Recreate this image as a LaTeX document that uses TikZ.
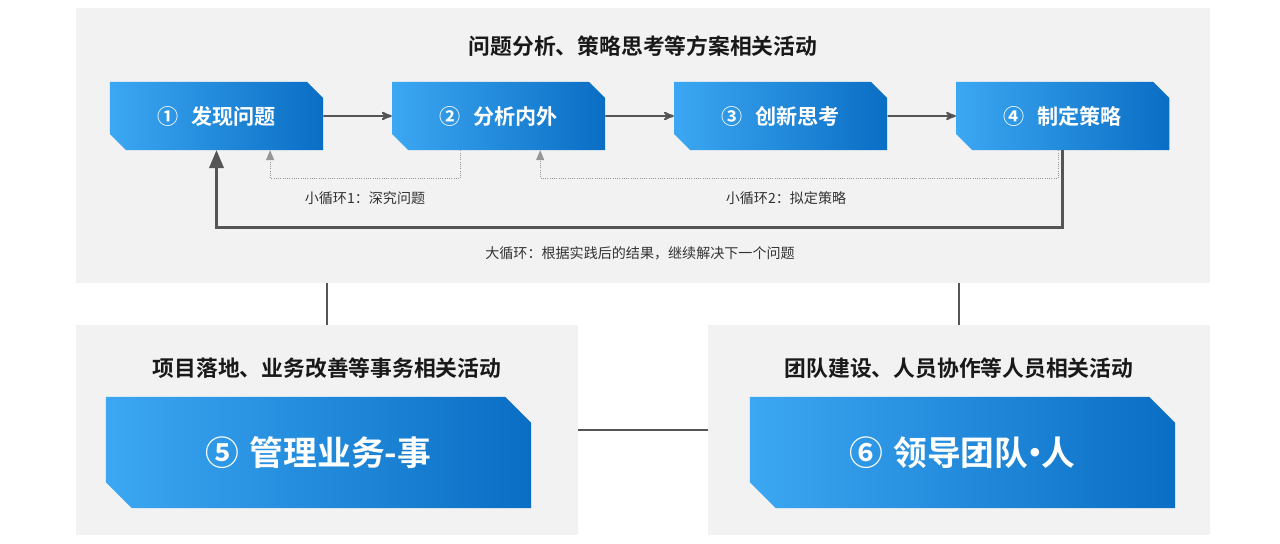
\documentclass[tikz,border=0pt]{standalone}
\usepackage{fontspec}
\setmainfont{Noto Sans CJK SC}[BoldFont={Noto Sans CJK SC Bold}]
\usetikzlibrary{arrows,positioning,shapes.misc}
\definecolor{panelgray}{RGB}{242,242,242}
\definecolor{boxlight}{RGB}{60,167,242}
\definecolor{boxdark}{RGB}{10,110,196}
\definecolor{flowgray}{RGB}{85,85,85}
\definecolor{dotgray}{RGB}{150,150,150}

\begin{document}
\begin{tikzpicture}[x=0.025cm,y=-0.025cm,>=stealth',node distance=7.05cm]
\tikzstyle{panel}=[fill=panelgray,inner sep=0pt,minimum width=12.55cm,minimum height=5.25cm]
\tikzstyle{stagebox}=[chamfered rectangle,chamfered rectangle corners={north east,south west},chamfered rectangle sep=0.2cm,
  left color=boxlight,right color=boxdark,text=white,inner sep=0pt,minimum width=5.325cm,minimum height=1.7cm,
  font=\fontsize{15}{18}\selectfont\bfseries]
\tikzstyle{bigbox}=[stagebox,chamfered rectangle sep=0.32cm,minimum width=10.625cm,minimum height=2.775cm,
  font=\fontsize{24}{28}\selectfont\bfseries]
\tikzstyle{titletext}=[text=black!90,font=\fontsize{15.5}{18}\selectfont\bfseries]
\tikzstyle{looptext}=[text=black!80,font=\fontsize{10}{12}\selectfont]
\tikzstyle{flowline}=[draw=flowgray,line width=1.4pt]
\tikzstyle{smallloop}=[draw=dotgray,densely dotted,line width=0.6pt,-triangle 45]
\tikzstyle{bigloop}=[draw=flowgray,line width=2pt,-triangle 45]
\useasboundingbox (0,0) rectangle (1280,544);
\fill[white] (0,0) rectangle (1280,544);

% panels
\node[panel,minimum width=28.35cm,minimum height=6.875cm] (plan) at (643,145.5) {};
\node[panel] (shi) at (327,430) {};
\node[panel] (ren) at (959,430) {};

% top: four stages
\node[titletext] (plantitle) at (643,46) {问题分析、策略思考等方案相关活动};
\node[stagebox] (find) at (216.5,116) {①\hspace{0.6em}发现问题};
\node[stagebox,right of=find] (analyse) {②\hspace{0.6em}分析内外};
\node[stagebox,right of=analyse] (innovate) {③\hspace{0.6em}创新思考};
\node[stagebox,right of=innovate] (strategy) {④\hspace{0.6em}制定策略};
\path[->,flowline] (find) edge (analyse)
      (analyse) edge (innovate)
      (innovate) edge (strategy);

% loops
\draw[smallloop] ([xshift=-0.96cm]analyse.south) -- ++(0,-0.7cm) -| ([xshift=1.34cm]find.south);
\draw[smallloop] ([xshift=-0.12cm]strategy.south) -- ++(0,-0.7cm) -| ([xshift=1.04cm]analyse.south);
\draw[bigloop] (strategy.south) -- ++(0,-1.925cm) -| (find.south);
\node[looptext] (loop1) at (365,198) {小循环1：深究问题};
\node[looptext] (loop2) at (786,198) {小循环2：拟定策略};
\node[looptext] (loop3) at (640,253) {大循环：根据实践后的结果，继续解决下一个问题};

% bottom: 事 and 人
\node[titletext] (shititle) at (327,368) {项目落地、业务改善等事务相关活动};
\node[bigbox] (manage) at (318.5,452.5) {⑤\hspace{0.3em}管理业务-事};
\node[titletext] (rentitle) at (959,368) {团队建设、人员协作等人员相关活动};
\node[bigbox] (lead) at (962.5,452.5) {⑥\hspace{0.3em}领导团队\kern-0.3em·\kern-0.3em人};

\draw[flowline] (shi.north |- plan.south) -- (shi.north);
\draw[flowline] (ren.north |- plan.south) -- (ren.north);
\draw[flowline] (shi.east) -- (ren.west);
\end{tikzpicture}
\end{document}
